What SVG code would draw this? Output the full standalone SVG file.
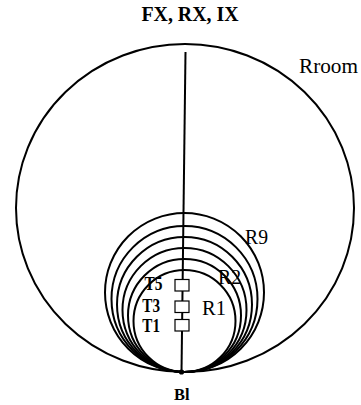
<svg xmlns="http://www.w3.org/2000/svg" width="361" height="405" viewBox="0 0 361 405">
<style>
.c{fill:none;stroke:#000;stroke-width:2}
.b{fill:#fff;stroke:#000;stroke-width:1.2}
.t{font-family:"Liberation Serif",serif;fill:#000}
.bold{font-weight:bold}
</style>
<rect width="361" height="405" fill="#fff"/>
<text class="t bold" x="190" y="21" font-size="20" text-anchor="middle" textLength="97" lengthAdjust="spacingAndGlyphs">FX, RX, IX</text>
<g id="room">
<ellipse class="c" cx="185" cy="208" rx="169" ry="164"/>
<text class="t" x="299" y="73" font-size="21" textLength="59" lengthAdjust="spacingAndGlyphs">Rroom</text>
</g>
<g id="rings">
<circle class="c" cx="184.5" cy="292.5" r="79.5"/>
<circle class="c" cx="184.5" cy="299" r="73"/>
<circle class="c" cx="184.5" cy="304.5" r="67.5"/>
<circle class="c" cx="184.5" cy="310" r="62"/>
<circle class="c" cx="184.5" cy="315.5" r="56.5"/>
<circle class="c" cx="184.5" cy="321" r="51"/>
<text class="t" x="245" y="244" font-size="20" textLength="23" lengthAdjust="spacingAndGlyphs">R9</text>
<text class="t" x="218" y="284" font-size="20" textLength="23" lengthAdjust="spacingAndGlyphs">R2</text>
<text class="t" x="202" y="315" font-size="20" textLength="24" lengthAdjust="spacingAndGlyphs">R1</text>
</g>
<g id="connectors">
<line x1="185.5" y1="52" x2="181.5" y2="372" stroke="#000" stroke-width="2"/>
</g>
<g id="T5">
<rect class="b" x="175" y="279.5" width="14" height="11.5"/>
<text class="t bold" x="144.5" y="289.5" font-size="18.5" textLength="18" lengthAdjust="spacingAndGlyphs">T5</text>
</g>
<g id="T3">
<rect class="b" x="175" y="301" width="14" height="11.5"/>
<text class="t bold" x="142.3" y="311.7" font-size="18.5" textLength="17.7" lengthAdjust="spacingAndGlyphs">T3</text>
</g>
<g id="T1">
<rect class="b" x="175" y="319.5" width="14" height="11.5"/>
<text class="t bold" x="142.3" y="331.5" font-size="18.5" textLength="17.7" lengthAdjust="spacingAndGlyphs">T1</text>
</g>
<g id="Bl">
<circle cx="181.5" cy="372" r="2.6" fill="#000"/>
<text class="t bold" x="174" y="399.5" font-size="17" textLength="15.5" lengthAdjust="spacingAndGlyphs">Bl</text>
</g>
</svg>
